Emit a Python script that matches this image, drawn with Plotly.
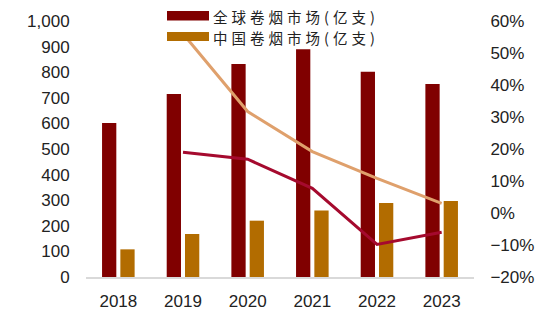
import plotly.graph_objects as go

years = ["2018", "2019", "2020", "2021", "2022", "2023"]
global_market = [602, 715, 832, 890, 802, 754]
china_market = [108, 168, 220, 260, 289, 297]
growth_years = ["2019", "2020", "2021", "2022", "2023"]
global_growth = [19.0, 16.8, 7.7, -9.8, -6.0]
china_growth = [56.0, 31.7, 19.2, 10.8, 3.0]
legend_names = ["全球卷烟市场(亿支)", "中国卷烟市场(亿支)"]

RED = "#800000"
ORANGE = "#B26C00"
RED_LINE = "#A50A2E"
ORANGE_LINE = "#DFA06C"
FONT = "Liberation Sans, Arial, sans-serif"

fig = go.Figure()
fig.add_trace(go.Bar(x=years, y=global_market, name=legend_names[0],
                     marker=dict(color=RED, line=dict(width=0))))
fig.add_trace(go.Bar(x=years, y=china_market, name=legend_names[1],
                     marker=dict(color=ORANGE, line=dict(width=0))))
fig.add_trace(go.Scatter(x=growth_years, y=global_growth, yaxis="y2", mode="lines",
                         line=dict(color=RED_LINE, width=3), cliponaxis=False,
                         showlegend=False))
fig.add_trace(go.Scatter(x=growth_years, y=china_growth, yaxis="y2", mode="lines",
                         line=dict(color=ORANGE_LINE, width=3), cliponaxis=False,
                         showlegend=False))

W, H = 550, 330
L, R, T, B = 86, 76, 21, 53
pw, ph = W - L - R, H - T - B

def px(x):
    return (x - L) / pw

def py(y):
    return (H - B - y) / ph

legend_colors = [RED, ORANGE]
legend_rows = [(11, 20.5, 16), (32, 41, 37)]
for (y0, y1, yc), col, name in zip(legend_rows, legend_colors, legend_names):
    fig.add_shape(type="rect", xref="paper", yref="paper",
                  x0=px(167), x1=px(209), y0=py(y1), y1=py(y0),
                  fillcolor=col, line=dict(width=0), layer="above")
    fig.add_annotation(xref="paper", yref="paper", x=px(212), y=py(yc),
                       text='<span style="letter-spacing:4px">' + name + "</span>",
                       showarrow=False, xanchor="left", yanchor="middle",
                       borderpad=0,
                       font=dict(family="Noto Sans CJK SC", size=14.5, color="#222222"))

fig.update_layout(
    width=W, height=H,
    margin=dict(l=L, r=R, t=T, b=B),
    paper_bgcolor="white", plot_bgcolor="white",
    barmode="group", bargap=0.434, bargroupgap=0.22,
    showlegend=False,
    font=dict(family=FONT, size=17, color="#222222"),
    xaxis=dict(type="category", showgrid=False, showline=True, linecolor="#D9D9D9",
               linewidth=1.5, ticks="outside", ticklen=8, tickcolor="rgba(0,0,0,0)",
               tickfont=dict(size=17)),
    yaxis=dict(range=[0, 1000], dtick=100, tickformat=",d", showgrid=False,
               showline=False, zeroline=False, ticks="outside", ticklen=12,
               tickcolor="rgba(0,0,0,0)", tickfont=dict(size=17)),
    yaxis2=dict(range=[-20, 60], dtick=10, ticksuffix="%", overlaying="y",
                side="right", showgrid=False, showline=False, zeroline=False,
                ticks="outside", ticklen=12, tickcolor="rgba(0,0,0,0)",
                tickfont=dict(size=17)),
)

fig.write_html("out.html")
